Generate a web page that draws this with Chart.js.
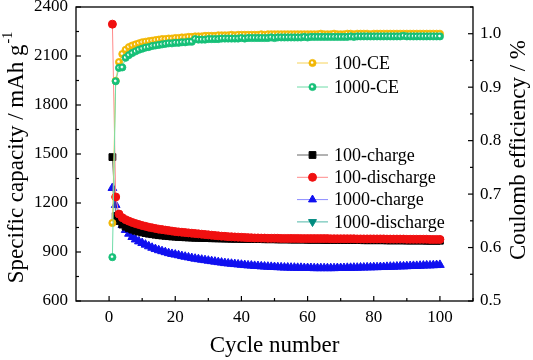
<!DOCTYPE html>
<html>
<head>
<meta charset="utf-8">
<script src="https://cdn.jsdelivr.net/npm/chart.js@4"></script>
<style>
  html, body { margin: 0; padding: 0; background: #fff; }
  #wrap { width: 533px; height: 360px; }
</style>
</head>
<body>
<div id="wrap"><canvas id="c" width="533" height="360"></canvas></div>
<script>
// cycle index, 1..100
const cycles = Array.from({ length: 100 }, (_, i) => i + 1);

const charge100 = [1481,1120,1090,1068,1055,1045,1037,1030,1025,1020,
  1016,1012,1009,1006,1003,1001,999,997,995,994,
  992,991,990,989,988,987,987,986,985,985,
  984,984,983,983,982,982,981,981,981,980,
  980,980,979,979,979,979,978,978,978,978,
  977,977,977,977,976,976,976,976,976,975,
  975,975,975,975,974,974,974,974,974,974,
  973,973,973,973,973,973,972,972,972,972,
  972,972,972,971,971,971,971,971,971,970,
  970,970,970,970,970,969,969,969,969,969];

const discharge100 = [2295,1237,1132,1110,1098,1089,1081,1074,1068,1062,
  1057,1052,1048,1044,1040,1037,1034,1031,1028,1025,
  1023,1021,1019,1017,1015,1013,1011,1009,1007,1005,
  1003,1001,999,997,996,994,993,992,991,990,
  989,988,987,986,986,985,985,984,984,984,
  984,983,983,983,983,983,983,982,982,982,
  982,982,982,982,982,982,981,981,981,981,
  981,981,981,981,980,980,980,980,980,980,
  980,980,980,979,979,979,979,979,979,978,
  978,978,978,978,978,978,977,977,977,977];

const charge1000 = [1292,1188,1127,1065,1035,1012,992,977,965,955,
  945,935,926,918,911,905,899,893,888,884,
  880,875,871,867,863,859,856,853,850,847,
  844,841,838,835,832,830,828,826,824,822,
  820,818,817,815,814,812,811,810,809,808,
  807,806,805,805,804,804,803,803,802,802,
  802,801,801,801,801,801,801,801,802,802,
  802,803,803,804,804,805,805,806,806,807,
  807,808,808,809,810,810,811,812,812,813,
  814,815,815,816,817,818,818,819,820,821];

// hidden under the 1000-charge markers in the original figure
const discharge1000 = [1292,1188,1127,1065,1035,1012,992,977,965,955,
  945,935,926,918,911,905,899,893,888,884,
  880,875,871,867,863,859,856,853,850,847,
  844,841,838,835,832,830,828,826,824,822,
  820,818,817,815,814,812,811,810,809,808,
  807,806,805,805,804,804,803,803,802,802,
  802,801,801,801,801,801,801,801,802,802,
  802,803,803,804,804,805,805,806,806,807,
  807,808,808,809,810,810,811,812,812,813,
  814,815,815,816,817,818,818,819,820,821];

const ce100 = [0.646,0.912,0.947,0.962,0.970,0.975,0.978,0.980,0.982,0.984,
  0.985,0.986,0.987,0.988,0.989,0.990,0.990,0.991,0.991,0.992,
  0.992,0.993,0.993,0.994,0.994,0.995,0.995,0.995,0.996,0.996,
  0.996,0.996,0.997,0.997,0.997,0.997,0.998,0.997,0.998,0.998,
  0.998,0.998,0.998,0.998,0.998,0.999,0.998,0.999,0.999,0.999,
  0.999,0.999,0.999,0.999,0.999,0.999,0.999,0.999,0.999,0.999,
  0.999,0.999,0.999,1.000,0.999,0.999,0.999,1.000,0.999,0.999,
  0.999,1.000,1.000,0.999,1.000,1.000,1.000,1.000,0.999,1.000,
  1.000,1.000,1.000,1.000,1.000,1.000,1.000,1.000,1.000,1.000,
  1.000,1.000,1.000,1.000,1.000,1.000,1.000,1.000,1.000,1.000];

const ce1000 = [0.582,0.911,0.936,0.937,0.955,0.960,0.964,0.967,0.970,0.972,
  0.974,0.975,0.977,0.978,0.979,0.980,0.981,0.982,0.982,0.983,
  0.983,0.984,0.984,0.985,0.985,0.990,0.989,0.989,0.989,0.990,
  0.990,0.990,0.990,0.991,0.991,0.991,0.991,0.991,0.991,0.992,
  0.991,0.992,0.992,0.992,0.992,0.992,0.992,0.992,0.993,0.992,
  0.993,0.993,0.993,0.993,0.993,0.993,0.993,0.993,0.994,0.993,
  0.994,0.994,0.994,0.994,0.994,0.994,0.994,0.994,0.994,0.994,
  0.994,0.994,0.995,0.994,0.995,0.995,0.995,0.995,0.995,0.995,
  0.995,0.995,0.995,0.995,0.995,0.995,0.995,0.995,0.996,0.995,
  0.995,0.995,0.995,0.995,0.995,0.995,0.995,0.995,0.995,0.995];

const xTicks = [0, 20, 40, 60, 80, 100];
const capTicks = [600, 900, 1200, 1500, 1800, 2100, 2400];
const ceTicks = [0.5, 0.6, 0.7, 0.8, 0.9, 1.0];

const FONT = "'Liberation Serif', 'Times New Roman', serif";

const pts = arr => cycles.map((c, i) => ({ x: c, y: arr[i] }));

function ballFill(ctx, color, x, y, r) {
  const g = ctx.createRadialGradient(x - 0.7, y - 0.7, 0, x, y, r);
  g.addColorStop(0, '#ffffff');
  g.addColorStop(0.2, '#ffffff');
  g.addColorStop(0.5, color);
  g.addColorStop(1, color);
  return g;
}

// ball-like marker fill: white core, coloured rim
const sphere = (color, axis, r) => c => {
  if (!c.raw || !c.chart.scales[axis]) return color;
  const ch = c.chart;
  const x = ch.scales.x.getPixelForValue(c.raw.x);
  const y = ch.scales[axis].getPixelForValue(c.raw.y);
  if (!isFinite(x) || !isFinite(y)) return color;
  return ballFill(ch.ctx, color, x, y, r);
};

function series(label, arr, axis, color, line, style, radius, extra) {
  return Object.assign({
    label: label,
    data: pts(arr),
    yAxisID: axis,
    borderColor: line,
    borderWidth: 1,
    backgroundColor: color,
    pointBackgroundColor: color,
    pointBorderColor: color,
    pointBorderWidth: 1,
    pointStyle: style,
    pointRadius: radius,
    pointHoverRadius: radius,
    legendFill: color,
    tension: 0
  }, extra || {});
}

const datasets = [
  series('1000-CE', ce1000, 'y1', '#16c078', '#6fdca8', 'circle', 3.6,
    { pointBackgroundColor: sphere('#16c078', 'y1', 3.6), pointBorderWidth: 0.8, ball: true, order: 1 }),
  series('100-CE', ce100, 'y1', '#f2b705', '#f6d35a', 'circle', 3.6,
    { pointBackgroundColor: sphere('#f2b705', 'y1', 3.6), pointBorderWidth: 0.8, ball: true, order: 2 }),
  series('100-discharge', discharge100, 'y', '#f01010', '#ff8a8a', 'circle', 4, { order: 3 }),
  series('100-charge', charge100, 'y', '#000000', '#666666', 'rect', 4.8, { order: 4 }),
  series('1000-charge', charge1000, 'y', '#1010f0', '#8a8aff', 'triangle', 5, { order: 5 }),
  series('1000-discharge', discharge1000, 'y', '#008b80', '#4fb8a8', 'triangle', 2.4,
    { pointRotation: 180, order: 6 })
];

const legendGroups = [
  { x: 297, y: 63, step: 24, labels: ['100-CE', '1000-CE'] },
  { x: 297, y: 155, step: 22.3, labels: ['100-charge', '100-discharge', '1000-charge', '1000-discharge'] }
];

const framePlugin = {
  id: 'frame',
  beforeDatasetsDraw(chart) {
    const { ctx, chartArea: a, scales } = chart;
    ctx.save();
    ctx.strokeStyle = '#000';
    ctx.lineWidth = 1.3;
    ctx.strokeRect(a.left, a.top, a.right - a.left, a.bottom - a.top);
    ctx.lineWidth = 1.2;
    const seg = (x1, y1, x2, y2) => { ctx.beginPath(); ctx.moveTo(x1, y1); ctx.lineTo(x2, y2); ctx.stroke(); };
    xTicks.forEach(v => {
      const x = scales.x.getPixelForValue(v);
      seg(x, a.bottom, x, a.bottom - 5);
      const m = scales.x.getPixelForValue(v + 10);
      seg(m, a.bottom, m, a.bottom - 3);
    });
    capTicks.forEach(v => {
      const y = scales.y.getPixelForValue(v);
      seg(a.left, y, a.left + 5, y);
      if (v < 2400) { const m = scales.y.getPixelForValue(v + 150); seg(a.left, m, a.left + 3, m); }
    });
    ceTicks.forEach(v => {
      const y = scales.y1.getPixelForValue(v);
      seg(a.right, y, a.right - 5, y);
      const m = scales.y1.getPixelForValue(v + 0.05);
      seg(a.right, m, a.right - 3, m);
    });
    ctx.restore();
  },
  afterDraw(chart) {
    const { ctx, chartArea: a } = chart;
    ctx.save();
    ctx.fillStyle = '#000';
    ctx.textBaseline = 'middle';

    // axis titles
    ctx.font = '23px ' + FONT;
    ctx.textAlign = 'center';
    ctx.fillText('Cycle number', (a.left + a.right) / 2, 346);

    ctx.save();
    ctx.translate(519, 150);
    ctx.rotate(-Math.PI / 2);
    ctx.fillText('Coulomb efficiency / %', 0, 0);
    ctx.restore();

    ctx.save();
    ctx.translate(17, 158);
    ctx.rotate(-Math.PI / 2);
    const main = 'Specific capacity / mAh g';
    ctx.font = '23px ' + FONT;
    const w1 = ctx.measureText(main).width;
    ctx.font = '14px ' + FONT;
    const w2 = ctx.measureText('-1').width;
    ctx.textAlign = 'left';
    ctx.font = '23px ' + FONT;
    ctx.fillText(main, -(w1 + w2) / 2, 0);
    ctx.font = '14px ' + FONT;
    ctx.fillText('-1', -(w1 + w2) / 2 + w1 + 1, -9);
    ctx.restore();

    // legends
    ctx.font = '18px ' + FONT;
    ctx.textAlign = 'left';
    legendGroups.forEach(g => {
      g.labels.forEach((lab, i) => {
        const ds = chart.data.datasets.find(d => d.label === lab);
        const y = g.y + i * g.step;
        const cx = g.x + 15.5;
        ctx.strokeStyle = ds.borderColor;
        ctx.lineWidth = 1;
        ctx.beginPath(); ctx.moveTo(g.x, y); ctx.lineTo(g.x + 31, y); ctx.stroke();
        ctx.fillStyle = ds.ball ? ballFill(ctx, ds.legendFill, cx, y, ds.pointRadius) : ds.legendFill;
        ctx.strokeStyle = ds.pointBorderColor;
        ctx.lineWidth = ds.pointBorderWidth;
        Chart.helpers.drawPoint(ctx, {
          pointStyle: ds.pointStyle,
          radius: lab === '1000-discharge' ? 4.6 : (lab === '1000-charge' ? 4.6 : ds.pointRadius),
          rotation: ds.pointRotation || 0,
          borderWidth: ds.pointBorderWidth
        }, cx, y);
        ctx.fillStyle = '#000';
        ctx.fillText(lab, g.x + 37, y + 1);
      });
    });
    ctx.restore();
  }
};

const tickFont = { family: 'Liberation Serif', size: 17 };
const noPadV = s => { s.paddingTop = 0; s.paddingBottom = 0; };

new Chart(document.getElementById('c').getContext('2d'), {
  type: 'line',
  data: { datasets: datasets },
  options: {
    responsive: false,
    animation: false,
    devicePixelRatio: 1,
    layout: { padding: { top: 7, left: 0, right: 0, bottom: 0 } },
    plugins: { legend: { display: false }, tooltip: { enabled: false } },
    scales: {
      x: {
        type: 'linear', min: -10, max: 110,
        afterBuildTicks: s => { s.ticks = xTicks.map(v => ({ value: v })); },
        afterFit: s => { s.height = 59; s.paddingLeft = 0; s.paddingRight = 0; },
        grid: { display: false, drawTicks: false },
        border: { display: false },
        ticks: { font: tickFont, color: '#000', padding: 6, maxRotation: 0, callback: v => String(v) }
      },
      y: {
        position: 'left', min: 600, max: 2400,
        afterBuildTicks: s => { s.ticks = capTicks.map(v => ({ value: v })); },
        afterFit: s => { s.width = 76; noPadV(s); },
        grid: { display: false, drawTicks: false },
        border: { display: false },
        ticks: { font: tickFont, color: '#000', padding: 8, callback: v => String(v) }
      },
      y1: {
        position: 'right', min: 0.5, max: 1.05,
        afterBuildTicks: s => { s.ticks = ceTicks.map(v => ({ value: v })); },
        afterFit: s => { s.width = 60; noPadV(s); },
        grid: { display: false, drawTicks: false },
        border: { display: false },
        ticks: { font: tickFont, color: '#000', padding: 7, callback: v => v.toFixed(1) }
      }
    }
  },
  plugins: [framePlugin]
});
</script>
</body>
</html>
